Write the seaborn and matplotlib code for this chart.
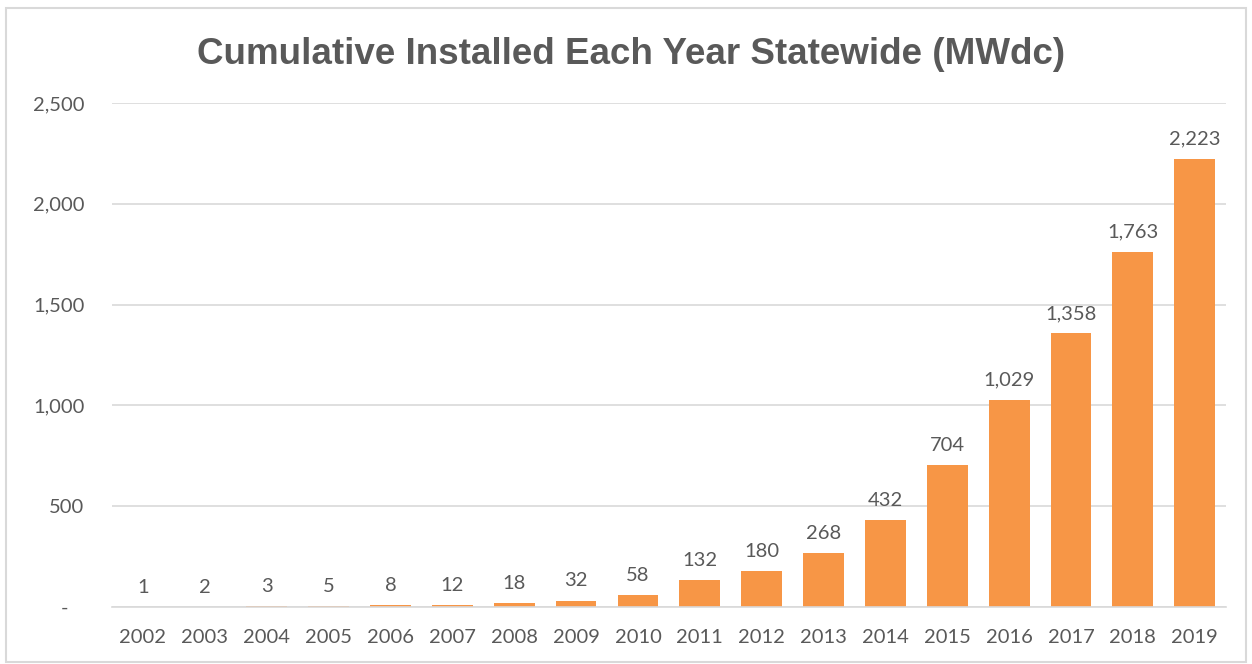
import matplotlib
matplotlib.use("Agg")
import matplotlib.pyplot as plt
import seaborn as sns
import pandas as pd
from matplotlib.patches import Rectangle

years = ["2002", "2003", "2004", "2005", "2006", "2007", "2008", "2009", "2010",
         "2011", "2012", "2013", "2014", "2015", "2016", "2017", "2018", "2019"]
mwdc = [1, 2, 3, 5, 8, 12, 18, 32, 58, 132, 180, 268, 432, 704, 1029, 1358, 1763, 2223]
y_ticks = [0, 500, 1000, 1500, 2000, 2500]
y_tick_labels = ["-   ", "500", "1,000", "1,500", "2,000", "2,500"]

df = pd.DataFrame({"Year": years, "MWdc": mwdc})

sns.set_style("white")
plt.rcParams["font.family"] = ["Lato", "DejaVu Sans"]

text_color = "#595959"
bar_color = "#F79646"

fig = plt.figure(figsize=(12.52, 6.64), dpi=100)
ax = fig.add_axes([0.0895, 0.0858, 0.8895, 0.7592])

sns.barplot(data=df, x="Year", y="MWdc", ax=ax, color=bar_color, width=0.66,
            saturation=1, edgecolor="none")

# value labels above bars
for i, v in enumerate(mwdc):
    ax.text(i, v + 55, f"{v:,}", ha="center", va="bottom", fontsize=14.5, color=text_color)

ax.set_ylim(0, 2500)
ax.set_xlim(-0.5, len(years) - 0.5)
ax.set_yticks(y_ticks)
ax.set_yticklabels(y_tick_labels)
ax.yaxis.grid(True, color="#D9D9D9", linewidth=1.2)
ax.set_axisbelow(True)
ax.tick_params(axis="both", length=0, labelsize=14.5, labelcolor=text_color)
ax.tick_params(axis="y", pad=20)
ax.tick_params(axis="x", pad=16)
ax.set_xlabel("")
ax.set_ylabel("")
for s in ["top", "right", "left"]:
    ax.spines[s].set_visible(False)
ax.spines["bottom"].set_color("#D9D9D9")
ax.spines["bottom"].set_linewidth(1.2)

fig.text(0.504, 0.918, "Cumulative Installed Each Year Statewide (MWdc)",
         ha="center", va="center", fontsize=26.5, fontweight="bold", color=text_color,
         family=["Liberation Sans", "DejaVu Sans"])

# light frame around the chart
fig.patches.append(Rectangle((0.005, 0.003), 0.99, 0.985, transform=fig.transFigure,
                             fill=False, edgecolor="#D9D9D9", linewidth=1.5))

fig.savefig("out.png", dpi=100)
